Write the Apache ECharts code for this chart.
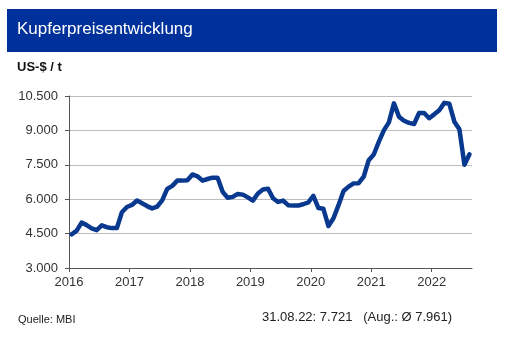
<!DOCTYPE html>
<html>
<head>
<meta charset="utf-8">
<script src="https://cdn.jsdelivr.net/npm/echarts@6/dist/echarts.min.js"></script>
<style>
html,body{margin:0;padding:0;background:#fff;}
#c{width:507px;height:337px;}
</style>
</head>
<body>
<div id="c"></div>
<script>
var yearTicks = [2016, 2017, 2018, 2019, 2020, 2021, 2022];
var startYear = 2016;
var prices = [
  4470, 4620, 4980, 4870, 4730, 4650, 4860, 4780, 4740, 4740, 5430, 5660,
  5750, 5940, 5820, 5700, 5600, 5680, 5950, 6450, 6580, 6810, 6810, 6830,
  7080, 7000, 6810, 6880, 6940, 6940, 6320, 6060, 6100, 6230, 6200, 6080,
  5940, 6250, 6420, 6460, 6040, 5880, 5940, 5740, 5720, 5720, 5780, 5860,
  6150, 5620, 5580, 4830, 5170, 5740, 6360, 6550, 6690, 6700, 6980, 7700,
  7950, 8500, 9000, 9350, 10180, 9600, 9420, 9330, 9280, 9760, 9760, 9530,
  9700, 9880, 10200, 10160, 9380, 9050, 7500, 7960
];
var yTicks = [3000, 4500, 6000, 7500, 9000, 10500];
var titleText = 'Kupferpreisentwicklung';
var unitText = 'US-$ / t';
var sourceText = 'Quelle: MBI';
var noteText = '31.08.22: 7.721   (Aug.: \u00D8 7.961)';

var seriesData = prices.map(function (v, i) { return [startYear + (i + 0.5) / 12, v]; });
function fmtDE(v) { return String(v).replace(/\B(?=(\d{3})+(?!\d))/g, '.'); }

var chart = echarts.init(document.getElementById('c'), null, {renderer: 'canvas'});
chart.setOption({
  animation: false,
  backgroundColor: '#ffffff',
  textStyle: {fontFamily: 'Liberation Sans, Arial, sans-serif'},
  graphic: [
    {type: 'rect', shape: {x: 7, y: 9, width: 490, height: 43}, style: {fill: '#00309a'}, z: 0},
    {type: 'text', left: 17, top: 21, style: {text: titleText, fill: '#ffffff', font: '17px "Liberation Sans", Arial, sans-serif'}},
    {type: 'text', left: 17, top: 61, style: {text: unitText, fill: '#111111', font: 'bold 13px "Liberation Sans", Arial, sans-serif'}},
    {type: 'text', left: 18, top: 314, style: {text: sourceText, fill: '#222222', font: '11px "Liberation Sans", Arial, sans-serif'}},
    {type: 'text', left: 262, top: 311, style: {text: noteText, fill: '#222222', font: '13px "Liberation Sans", Arial, sans-serif'}}
  ],
  grid: {left: 69, right: 35, top: 96, bottom: 69, containLabel: false},
  xAxis: {
    type: 'value',
    min: 2016,
    max: 2016 + 80 / 12,
    interval: 1,
    axisLine: {show: true, lineStyle: {color: '#555555', width: 1}},
    axisTick: {show: true, length: 4, inside: false, customValues: yearTicks, lineStyle: {color: '#555555'}},
    axisLabel: {customValues: yearTicks, color: '#333333', fontSize: 13, margin: 8, formatter: function (v) { return String(v); }},
    splitLine: {show: false}
  },
  yAxis: {
    type: 'value',
    min: 3000,
    max: 10500,
    interval: 1500,
    axisLine: {show: true, lineStyle: {color: '#555555', width: 1}},
    axisTick: {show: true, length: 4, lineStyle: {color: '#555555'}},
    axisLabel: {color: '#333333', fontSize: 13, margin: 11, formatter: function (v) { return fmtDE(v); }},
    splitLine: {show: true, lineStyle: {color: '#bdbdbd', width: 1}}
  },
  series: [{
    type: 'line',
    data: seriesData,
    showSymbol: false,
    symbol: 'none',
    lineStyle: {color: '#08398f', width: 4.5, join: 'round', cap: 'round'},
    z: 5
  }]
});
</script>
</body>
</html>
